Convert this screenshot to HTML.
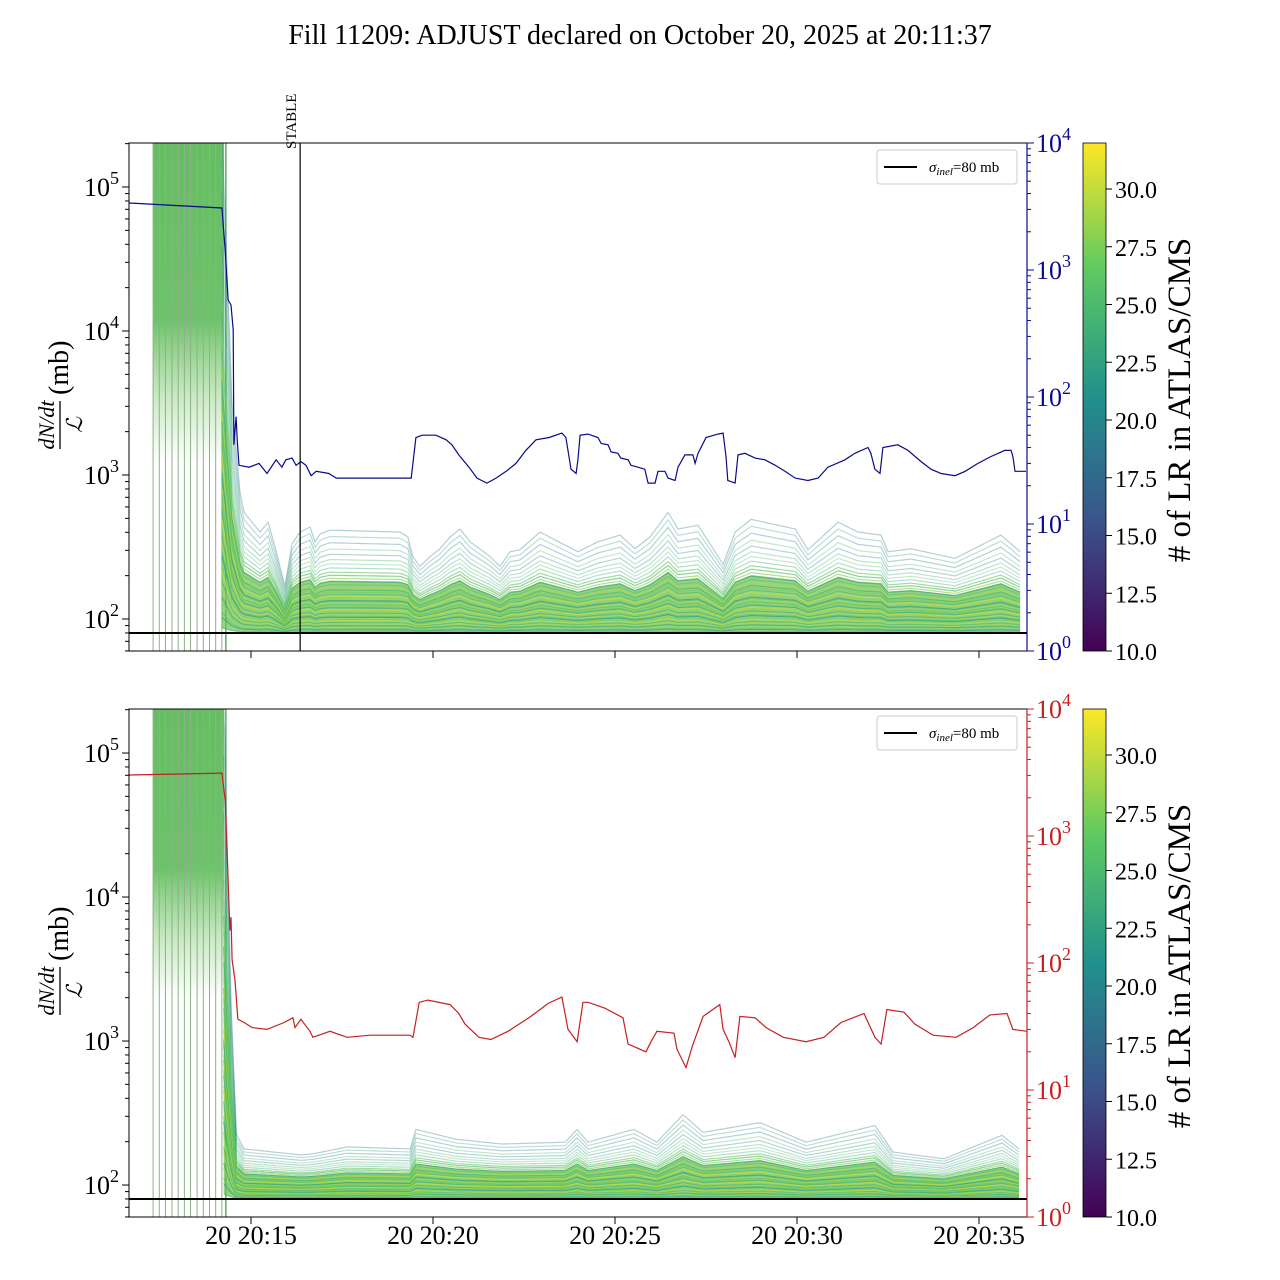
<!DOCTYPE html>
<html><head><meta charset="utf-8">
<style>
html,body{margin:0;padding:0;background:#fff;}
svg{display:block;font-family:"Liberation Serif","DejaVu Serif",serif;}
</style></head>
<body>
<svg id="chart" width="1280" height="1280" viewBox="0 0 1280 1280" xmlns="http://www.w3.org/2000/svg">
<defs>
<clipPath id="clipTop"><rect x="129" y="143" width="898" height="508"/></clipPath>
<clipPath id="clipBot"><rect x="129" y="709" width="898" height="508"/></clipPath>
<linearGradient id="viridis" x1="0" y1="1" x2="0" y2="0">
<stop offset="0" stop-color="#440154"/><stop offset="0.25" stop-color="#3b528b"/><stop offset="0.5" stop-color="#21918c"/><stop offset="0.75" stop-color="#5ec962"/><stop offset="1" stop-color="#fde725"/>
</linearGradient>
<linearGradient id="preTop" x1="0" y1="0" x2="0" y2="1">
<stop offset="0" stop-color="#5dbb5a" stop-opacity="0.95"/><stop offset="0.55" stop-color="#5dbb5a" stop-opacity="0.9"/><stop offset="0.8" stop-color="#6cc45c" stop-opacity="0.35"/><stop offset="1" stop-color="#6cc45c" stop-opacity="0"/>
</linearGradient>
</defs>
<text x="640" y="44" text-anchor="middle" font-size="28">Fill 11209: ADJUST declared on October 20, 2025 at 20:11:37</text>
<g id="top"></g>
<g id="bot"></g>
</svg>
<script>
// ---- data ----
const tickTimes = [15, 20, 25, 30, 35];
const tickLabels = ["20 20:15", "20 20:20", "20 20:25", "20 20:30", "20 20:35"];
const injTimes = [12.31, 12.48, 12.65, 12.83, 13.00, 13.17, 13.34, 13.52, 13.69, 13.86, 14.03, 14.20];
const stableTime = 16.35;
const adjustTime = 14.31;
const sigmaInel = 80;
const cbTicks = [10.0, 12.5, 15.0, 17.5, 20.0, 22.5, 25.0, 27.5, 30.0];

const blueT = [11.65,14.20,14.29,14.37,14.45,14.51,14.53,14.59,14.62,14.67,14.95,15.22,15.44,15.69,15.85,15.96,16.13,16.24,16.37,16.51,16.65,16.79,17.14,17.34,18.05,19.40,19.53,19.70,20.08,20.36,20.52,20.71,20.99,21.21,21.48,21.73,22.01,22.28,22.55,22.83,23.19,23.54,23.65,23.79,23.93,23.98,24.04,24.26,24.53,24.62,24.81,24.89,25.08,25.16,25.36,25.44,25.63,25.82,25.91,26.10,26.18,26.37,26.46,26.65,26.73,26.92,27.14,27.20,27.28,27.47,27.50,27.83,27.97,28.05,28.10,28.30,28.38,28.57,28.85,29.12,29.40,29.67,29.95,30.30,30.58,30.85,31.32,31.59,31.95,32.03,32.14,32.28,32.36,32.77,33.05,33.41,33.68,33.96,34.34,34.62,34.97,35.33,35.71,35.88,35.93,35.99,36.29];
const blueV = [3370,3080,1440,580,530,337,42,70,46,29,28,30,25,32,28,32,33,29,31,29,24,26,25,23,23,23,48,50,50,46,42,35,28,23,21,23,26,30,38,46,48,52,48,27,25,32,50,51,48,43,42,37,36,33,32,29,28,27,21,21,26,26,23,22,28,35,35,30,36,46,48,51,52,34,22,21,35,36,33,32,29,26,23,22,23,28,32,36,40,36,27,25,40,42,38,31,27,25,24,26,30,34,38,38,34,26,26];

const redT = [11.65,14.20,14.29,14.37,14.42,14.45,14.48,14.56,14.64,14.81,15.03,15.44,15.91,16.15,16.21,16.37,16.62,16.70,17.17,17.64,18.27,19.37,19.45,19.62,19.86,20.47,20.71,20.88,21.26,21.59,22.06,22.69,23.16,23.54,23.71,23.96,24.12,24.26,24.73,25.22,25.36,25.85,25.99,26.15,26.62,26.70,26.95,27.12,27.42,27.88,27.97,28.13,28.30,28.43,28.85,29.15,29.62,30.25,30.74,31.21,31.84,32.14,32.31,32.47,32.94,33.24,33.74,34.37,34.84,35.30,35.77,35.93,36.32];
const redV = [3020,3130,1920,450,180,230,106,73,36,34,31,30,34,37,31,36,29,26,29,26,27,27,26,49,51,47,40,33,26,25,29,38,48,54,30,24,49,49,44,37,23,20,24,29,28,21,15,22,38,47,30,24,18,38,37,31,26,24,26,34,40,26,23,43,41,33,27,26,31,39,40,30,29];

const envTopT = [14.20,14.48,14.70,14.81,15.25,15.47,15.66,15.93,16.13,16.35,16.62,16.76,16.90,17.17,19.09,19.31,19.45,19.64,19.92,20.19,20.47,20.74,21.02,21.57,21.84,22.12,22.39,22.94,23.98,24.53,25.14,25.55,25.96,26.46,26.73,27.28,27.97,28.30,28.74,29.95,30.30,31.13,31.68,32.31,32.50,33.13,34.34,35.60,36.13];
const envTopV = [300000,3320,787,571,415,487,327,172,343,415,450,354,402,428,415,383,278,237,278,316,383,436,354,278,237,301,311,415,301,354,395,316,383,571,436,464,245,415,511,436,311,487,415,395,301,316,270,395,301];
const envBotT = [14.25,14.45,14.60,14.81,16.37,16.70,17.64,19.37,19.53,20.63,21.90,23.63,23.96,24.26,25.52,26.15,26.87,27.42,28.98,30.25,32.14,32.64,34.04,35.63,36.10];
const envBotV = [300000,2000,230,181,164,167,187,181,249,212,196,202,249,202,249,202,316,237,278,202,265,172,154,226,181];

const lineFrac = [0.01,0.03,0.04,0.06,0.07,0.09,0.10,0.12,0.13,0.15,0.16,0.18,0.19,0.21,0.22,0.24,0.25,0.27,0.28,0.30,0.31,0.33,0.35,0.37,0.39,0.41,0.43,0.46,0.49,0.52,0.55,0.58,0.62,0.66,0.70,0.75,0.80,0.86,0.92,0.98];
const lineLR  = [24,22,26,28,23,29,25,30,27,21,26,29,24,28,30,23,27,25,29,26,22,28,30,25,27,24,29,26,23,28,25,27,22,26,24,20,25,19,23,18];

// ---- helpers ----
const NS = "http://www.w3.org/2000/svg";
const svg = document.getElementById('chart');
function mk(tag, attrs, parent, txt){const e=document.createElementNS(NS,tag);for(const k in attrs)e.setAttribute(k,attrs[k]);if(txt!==undefined)e.textContent=txt;(parent||svg).appendChild(e);return e;}
const xS = t => 251 + (t-15)*36.4;
function viridis(v){
  const s=[[68,1,84],[59,82,139],[33,145,140],[94,201,98],[253,231,37]];
  let u=Math.max(0,Math.min(1,(v-10)/22))*4;const i=Math.min(3,Math.floor(u)),f=u-i;
  const c=s[i].map((a,k)=>Math.round(a+(s[i+1][k]-a)*f));return `rgb(${c[0]},${c[1]},${c[2]})`;
}
function interpLog(T,V,t){
  if(t<=T[0])return Math.log10(V[0]);
  for(let i=1;i<T.length;i++){if(t<=T[i]){const f=(t-T[i-1])/(T[i]-T[i-1]);return Math.log10(V[i-1])+f*(Math.log10(V[i])-Math.log10(V[i-1]));}}
  return Math.log10(V[V.length-1]);
}

function panel(g, off, envT, envV, lineT, lineV, lineColor, clipId, showX){
  const y0 = 619+off, top=143+off, bot=651+off;
  const yL = v => y0 - (Math.log10(v)-2)*144;
  const yR = v => bot - Math.log10(v)*127;
  const cg = mk('g',{'clip-path':`url(#${clipId})`},g);
  const pre = mk('rect',{x:xS(injTimes[0]),y:top,width:xS(injTimes[injTimes.length-1])-xS(injTimes[0])+2,height:off?290:320,fill:'url(#preTop)'},cg);
  
  
  injTimes.forEach(t=>{
    const l=mk('line',{x1:xS(t),x2:xS(t),y1:top,y2:bot,stroke:'#8fb08a','stroke-width':1},cg);
    
    
  });
  const adj=mk('line',{x1:xS(adjustTime),x2:xS(adjustTime),y1:top,y2:bot,stroke:'#2ca02c','stroke-width':1.2},cg);
  
  
  const ts=[];for(let t=envT[0];t<=envT[envT.length-1]+1e-6;t+=0.05)ts.push(t);
  envT.forEach(t=>ts.push(t));ts.sort((a,b)=>a-b);
  const l80=Math.log10(sigmaInel);
  let up=[],dn=[];
  ts.forEach(t=>{const le=interpLog(envT,envV,t);up.push([xS(t),yL(Math.pow(10,l80+0.5*(le-l80)))]);dn.push([xS(t),yL(Math.pow(10,l80+0.01*(le-l80)))]);});
  const core=mk('path',{d:'M'+up.map(p=>p.join(',')).join('L')+'L'+dn.reverse().map(p=>p.join(',')).join('L')+'Z',fill:'#6cc04e','fill-opacity':0.7},cg);
  
  
  lineFrac.forEach((f,i)=>{
    const pts=ts.map(t=>{const le=interpLog(envT,envV,t);return xS(t).toFixed(1)+','+yL(Math.pow(10,l80+f*(le-l80))).toFixed(1);});
    const p=mk('path',{d:'M'+pts.join('L'),fill:'none',stroke:viridis(lineLR[i]),'stroke-width':1.2,'stroke-opacity':f>0.6?0.35:0.65},cg);
    
    
  });
  const sl=mk('line',{x1:129,x2:1027,y1:yL(sigmaInel),y2:yL(sigmaInel),stroke:'#000','stroke-width':2},cg);
  
  
  const lp=mk('path',{d:'M'+lineT.map((t,i)=>xS(t).toFixed(1)+','+yR(lineV[i]).toFixed(1)).join('L'),fill:'none',stroke:lineColor,'stroke-width':1.2},cg);
  
  
  const fr=mk('rect',{x:129,y:top,width:898,height:508,fill:'none',stroke:'#000','stroke-width':1},g);
  
  
  mk('line',{x1:1027,x2:1027,y1:top,y2:bot,stroke:lineColor,'stroke-width':1.2},g);
  [2,3,4,5].forEach(d=>{
    const y=yL(Math.pow(10,d));
    mk('line',{x1:129,x2:122,y1:y,y2:y,stroke:'#000'},g);
    const tx=mk('text',{x:110,y:y+9,'font-size':26,'text-anchor':'end'},g,'10');
    
    
    mk('text',{x:110,y:y-3,'font-size':18,'text-anchor':'start'},g,String(d));
  });
  for(let d=1;d<=5;d++)for(let m=2;m<=9;m++){const y=yL(m*Math.pow(10,d));if(y>top&&y<bot)mk('line',{x1:129,x2:125,y1:y,y2:y,stroke:'#000'},g);}
  [0,1,2,3,4].forEach(d=>{
    const y=yR(Math.pow(10,d));
    mk('line',{x1:1027,x2:1034,y1:y,y2:y,stroke:lineColor},g);
    const tx=mk('text',{x:1036,y:y+9,'font-size':26,fill:lineColor},g,'10');
    
    
    mk('text',{x:1062,y:y-3,'font-size':18,fill:lineColor},g,String(d));
  });
  for(let d=0;d<4;d++)for(let m=2;m<=9;m++){const y=yR(m*Math.pow(10,d));mk('line',{x1:1027,x2:1031,y1:y,y2:y,stroke:lineColor},g);}
  tickTimes.forEach((t,i)=>{
    mk('line',{x1:xS(t),x2:xS(t),y1:bot,y2:bot+7,stroke:'#000'},g);
    if(showX){const tx=mk('text',{x:xS(t),y:bot+27,'font-size':26,'text-anchor':'middle'},g,tickLabels[i]);
      
      }
  });
  const yl=mk('g',{transform:`translate(62,${397+off}) rotate(-90)`},g);
  
  
  mk('text',{x:-28,y:-8,'font-size':22,'font-style':'italic','text-anchor':'middle'},yl,'dN/dt');
  mk('line',{x1:-52,x2:-4,y1:-2,y2:-2,stroke:'#000','stroke-width':1.3},yl);
  mk('text',{x:-28,y:20,'font-size':22,'font-style':'italic','text-anchor':'middle'},yl,'ℒ');
  mk('text',{x:2,y:6,'font-size':28},yl,'(mb)');
  const lg=mk('g',{},g);
  
  
  mk('rect',{x:877,y:150+off,width:140,height:34,rx:3,fill:'#fff',stroke:'#ccc'},lg);
  mk('line',{x1:884,x2:917,y1:167+off,y2:167+off,stroke:'#000','stroke-width':2},lg);
  const lt=mk('text',{x:929,y:172+off,'font-size':15},lg);
  mk('tspan',{'font-style':'italic'},lt,'σ');
  mk('tspan',{'font-style':'italic','font-size':11,dy:3},lt,'inel');
  mk('tspan',{dy:-3},lt,'=80 mb');
  const cb=mk('rect',{x:1083,y:top,width:23,height:508,fill:'url(#viridis)',stroke:'#000','stroke-width':0.8},g);
  
  
  cbTicks.forEach(v=>{
    const y=bot-(v-10)*23.1;
    mk('line',{x1:1106,x2:1112,y1:y,y2:y,stroke:'#000'},g);
    const tx=mk('text',{x:1115,y:y+9,'font-size':24},g,v.toFixed(1));
    
    
  });
  const ct=mk('text',{x:0,y:0,'font-size':33,'text-anchor':'middle',transform:`translate(1190,${400+off}) rotate(-90)`},g,'# of LR in ATLAS/CMS');
  
  
}
panel(document.getElementById('top'),0,envTopT,envTopV,blueT,blueV,'#0a0a8c','clipTop',false);
panel(document.getElementById('bot'),566,envBotT,envBotV,redT,redV,'#c42020','clipBot',true);
const st=mk('line',{x1:xS(stableTime),x2:xS(stableTime),y1:143,y2:651,stroke:'#000','stroke-width':1.2});


const stt=mk('text',{x:0,y:0,'font-size':15,transform:`translate(${xS(stableTime)-4},149) rotate(-90)`},svg,'STABLE');


</script>
</body></html>
